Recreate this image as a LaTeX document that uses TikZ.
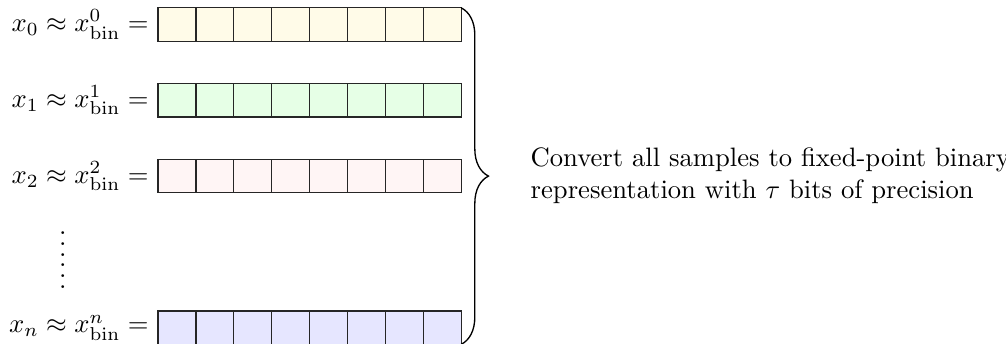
\documentclass[tikz,border=0pt]{standalone}
\usetikzlibrary{decorations.pathreplacing}
\definecolor{rowA}{RGB}{255,251,232}
\definecolor{rowB}{RGB}{230,255,230}
\definecolor{rowC}{RGB}{255,245,245}
\definecolor{rowD}{RGB}{230,230,255}
\tikzset{
  cell/.style={draw=black!85, line width=0.5pt, minimum width=0.5cm, minimum height=0.44cm, inner sep=0pt, outer sep=0pt},
  lbl/.style={anchor=east, inner sep=3.33pt},
  bracestyle/.style={decorate, decoration={brace, amplitude=0.36cm}, line width=0.5pt},
}
\begin{document}
\begin{tikzpicture}[x=1cm,y=1cm]
\useasboundingbox (0,0) rectangle (13.272,-4.538);
\foreach \r/\c/\k/\s in {0/rowA/0/0, 1/rowB/1/1, 2/rowC/2/2, 4/rowD/n/n} {
  \foreach \i in {0,...,7} {
    \node[cell, fill=\c] (c\k-\i) at ({2.084+0.25+0.5*\i}, {-(0.323+\r)}) {};
  }
  \node[lbl] (l\k) at (c\k-0.west) {$x_{\s} \approx x^{\s}_{\mathrm{bin}} =$};
}
\node (vd) at (0.83,-3.43) {\vbox{\baselineskip4pt\lineskiplimit0pt\hbox{.}\hbox{.}\hbox{.}\hbox{.}\hbox{.}\hbox{.}}};
\draw[bracestyle] (c0-7.north east) -- (cn-7.south east) coordinate[midway, xshift=0.36cm] (tip);
\node[anchor=west, align=left, inner sep=0pt] (txt) at ([xshift=0.55cm]tip) {Convert all samples to fixed-point binary\\representation with $\tau$ bits of precision};
\end{tikzpicture}
\end{document}
